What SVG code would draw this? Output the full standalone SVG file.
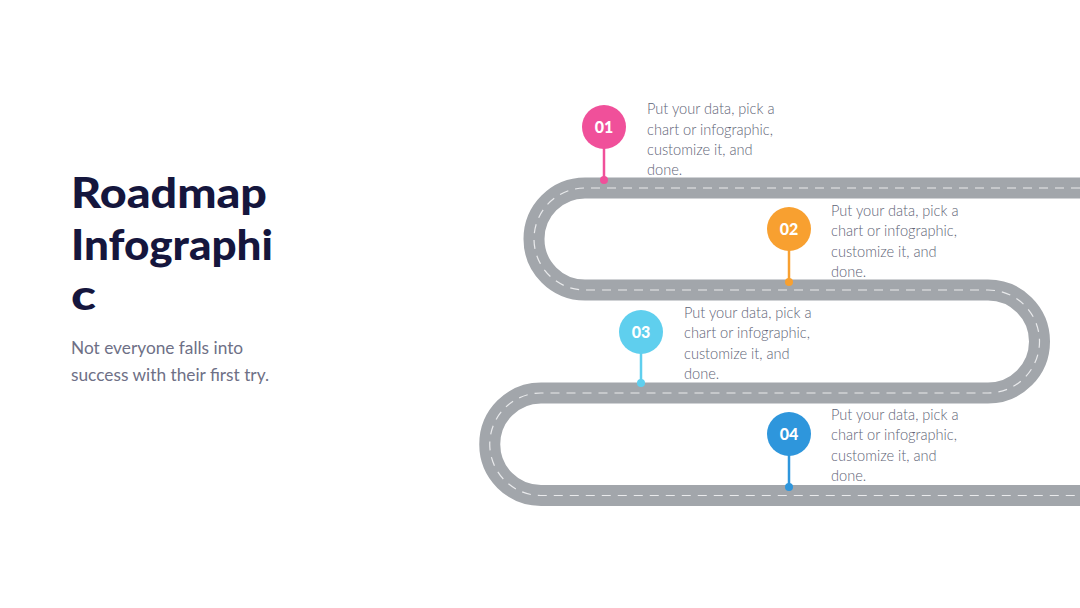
<svg xmlns="http://www.w3.org/2000/svg" width="1080" height="608" viewBox="0 0 1080 608">
<style>
.title{font-family:Lato,"Liberation Sans",sans-serif;font-weight:900;font-size:42px;fill:#15163d}
.sub{font-family:Lato,"Liberation Sans",sans-serif;font-size:17.3px;fill:#6e7086}
.desc{font-family:Lato,"Liberation Sans",sans-serif;font-weight:300;font-size:14.6px;fill:#606376}
.num{font-family:Lato,"Liberation Sans",sans-serif;font-weight:900;font-size:16px;fill:#ffffff;text-anchor:middle}
.road{fill:none;stroke:#a2a6ab;stroke-width:21}
.lane{fill:none;stroke:#e9eaec;stroke-width:1.2;stroke-dasharray:9 7}
.stem{stroke-width:2.5}
</style>
<rect width="1080" height="608" fill="#ffffff"/>
<g id="title">
<text class="title" x="71" y="208" textLength="196" lengthAdjust="spacingAndGlyphs">Roadmap</text>
<text class="title" x="71" y="260" textLength="202" lengthAdjust="spacingAndGlyphs">Infographi</text>
<text class="title" x="71" y="310" textLength="25" lengthAdjust="spacingAndGlyphs">c</text>
<text class="sub" x="71" y="354">Not everyone falls into</text>
<text class="sub" x="71" y="381">success with their first try.</text>
</g>
<g id="connectors">
<path class="road" d="M 1080 188 H 585 A 51 51 0 0 0 585 290 H 988 A 51.5 51.5 0 0 1 988 393 H 541 A 51.25 51.25 0 0 0 541 495.5 H 1080"/>
<path class="lane" d="M 1080 188 H 585 A 51 51 0 0 0 585 290 H 988 A 51.5 51.5 0 0 1 988 393 H 541 A 51.25 51.25 0 0 0 541 495.5 H 1080"/>
</g>
<g id="step1">
<line class="stem" x1="604" y1="127" x2="604" y2="180" stroke="#f0509a"/>
<circle cx="604" cy="180" r="4" fill="#f0509a"/>
<circle cx="604" cy="127" r="22" fill="#f0509a"/>
<text class="num" x="604" y="133">01</text>
<text class="desc" x="647" y="114">Put your data, pick a</text>
<text class="desc" x="647" y="135">chart or infographic,</text>
<text class="desc" x="647" y="155">customize it, and</text>
<text class="desc" x="647" y="175">done.</text>
</g>
<g id="step2">
<line class="stem" x1="789" y1="229" x2="789" y2="282" stroke="#f8a030"/>
<circle cx="789" cy="282" r="4" fill="#f8a030"/>
<circle cx="789" cy="229" r="22" fill="#f8a030"/>
<text class="num" x="789" y="235">02</text>
<text class="desc" x="831" y="216">Put your data, pick a</text>
<text class="desc" x="831" y="236">chart or infographic,</text>
<text class="desc" x="831" y="257">customize it, and</text>
<text class="desc" x="831" y="277">done.</text>
</g>
<g id="step3">
<line class="stem" x1="641" y1="332" x2="641" y2="383" stroke="#5fcfee"/>
<circle cx="641" cy="383" r="4" fill="#5fcfee"/>
<circle cx="641" cy="332" r="22" fill="#5fcfee"/>
<text class="num" x="641" y="338">03</text>
<text class="desc" x="684" y="318">Put your data, pick a</text>
<text class="desc" x="684" y="338">chart or infographic,</text>
<text class="desc" x="684" y="359">customize it, and</text>
<text class="desc" x="684" y="379">done.</text>
</g>
<g id="step4">
<line class="stem" x1="789" y1="434" x2="789" y2="487" stroke="#2e96dc"/>
<circle cx="789" cy="487" r="4" fill="#2e96dc"/>
<circle cx="789" cy="434" r="22" fill="#2e96dc"/>
<text class="num" x="789" y="440">04</text>
<text class="desc" x="831" y="420">Put your data, pick a</text>
<text class="desc" x="831" y="440">chart or infographic,</text>
<text class="desc" x="831" y="461">customize it, and</text>
<text class="desc" x="831" y="481">done.</text>
</g>
</svg>
